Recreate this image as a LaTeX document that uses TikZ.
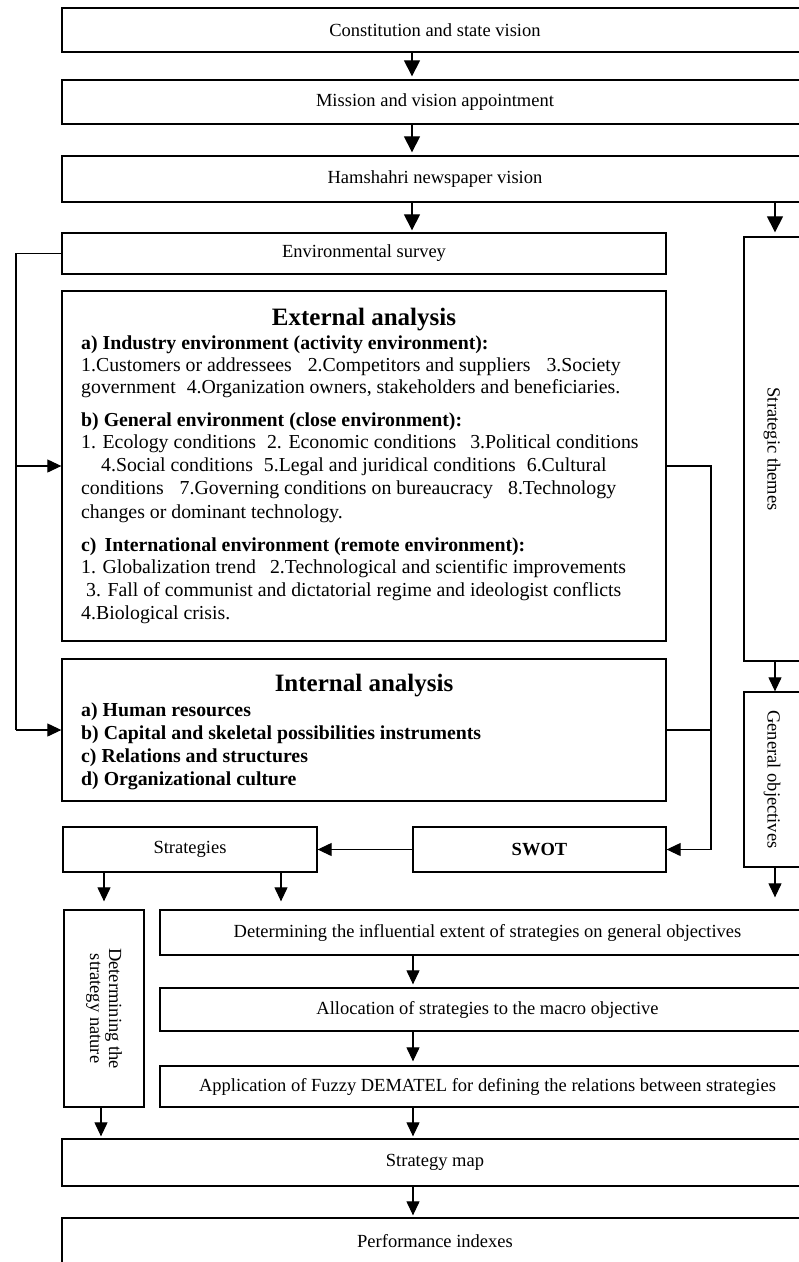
\documentclass[tikz,border=0pt]{standalone}
\usepackage{fontspec}
\setmainfont{Liberation Serif}
\usetikzlibrary{arrows.meta}
\newcommand\fsnorm{\fontsize{18.5}{22.7}\selectfont}
\newcommand\fsbody{\fontsize{19.8}{22.7}\selectfont}
\newcommand\fsbig{\fontsize{25}{30}\selectfont\bfseries}
\begin{document}
\begin{tikzpicture}[x=1pt,y=-1pt,
  box/.style={draw, line width=1.3pt, inner sep=0pt, font=\fsnorm, align=center},
  txt/.style={inner sep=0pt, anchor=base west, font=\fsbody},
  rottxt/.style={inner sep=0pt, rotate=-90, font=\fsnorm, align=center},
  conn/.style={line width=1.1pt},
  arr/.style={conn, -{Triangle[width=13pt,length=14pt]}},
  arrbig/.style={conn, -{Triangle[width=16pt,length=16pt]}}]
\useasboundingbox (0,0) rectangle (799,1262);
\clip (0,0) rectangle (799,1262);
% top chain
\node[box, minimum width=746pt, minimum height=44pt] (top1) at (435,30) {Constitution and state vision};
\node[box, minimum width=746pt, minimum height=44pt] (top2) at (435,102) {Mission and vision appointment};
\node[box, minimum width=746pt, minimum height=46pt] (top3) at (435,179) {Hamshahri newspaper vision};
\node[box, minimum width=604pt, minimum height=41pt] (survey) at (364,253.5) {Environmental survey};
% external analysis
\node[box, minimum width=604pt, minimum height=350pt] (ext) at (364,466) {};
\node[inner sep=0pt, anchor=base, font=\fsbig] (extT) at (364,325) {External analysis};
\node[txt] (e1) at (81,349) {\bfseries a) Industry environment (activity environment):};
\node[txt] (e2) at (81,371) {1.Customers or addressees\hspace{16pt}2.Competitors and suppliers\hspace{16pt}3.Society};
\node[txt] (e3) at (81,393) {government\hspace{11pt}4.Organization owners, stakeholders and beneficiaries.};
\node[txt] (e4) at (81,426) {\bfseries b) General environment (close environment):};
\node[txt] (e5) at (81,448) {1. Ecology conditions\hspace{11pt}2. Economic conditions\hspace{14pt}3.Political conditions};
\node[txt] (e6) at (101,471) {4.Social conditions\hspace{11pt}5.Legal and juridical conditions\hspace{11pt}6.Cultural};
\node[txt] (e7) at (81,494) {conditions\hspace{16pt}7.Governing conditions on bureaucracy\hspace{15pt}8.Technology};
\node[txt] (e8) at (81,518) {changes or dominant technology.};
\node[txt] (e9) at (81,551) {\bfseries c)\hspace{8pt}International environment (remote environment):};
\node[txt] (e10) at (81,573) {1. Globalization trend\hspace{14pt}2.Technological and scientific improvements};
\node[txt] (e11) at (86,596) {3. Fall of communist and dictatorial regime and ideologist conflicts};
\node[txt] (e12) at (81,619) {4.Biological crisis.};
% internal analysis
\node[box, minimum width=604pt, minimum height=142pt] (int) at (364,730) {};
\node[inner sep=0pt, anchor=base, font=\fsbig] (intT) at (364,691) {Internal analysis};
\node[txt] (i1) at (81,716) {\bfseries a) Human resources};
\node[txt] (i2) at (81,739) {\bfseries b) Capital and skeletal possibilities instruments};
\node[txt] (i3) at (81,762) {\bfseries c) Relations and structures};
\node[txt] (i4) at (81,785) {\bfseries d) Organizational culture};
% right column
\node[box, minimum width=56pt, minimum height=424pt] (themes) at (772,449) {};
\node[rottxt] (themesT) at (themes.center) {Strategic themes};
\node[box, minimum width=56pt, minimum height=175pt] (genobj) at (772,779.5) {};
\node[rottxt] (genobjT) at (genobj.center) {General objectives};
% strategies and swot
\node[box, minimum width=254pt, minimum height=45pt] (strat) at (190,849.5) {Strategies};
\node[box, minimum width=253pt, minimum height=45pt] (swot) at (539.5,849.5) {\bfseries SWOT};
\node[box, minimum width=80pt, minimum height=197pt] (nature) at (104,1008.5) {};
\node[rottxt, font=\fontsize{18.5}{19}\selectfont] (natureT) at (nature.center) {Determining the\\strategy nature};
\node[box, minimum width=655pt, minimum height=45pt] (det) at (487.5,932.5) {Determining the influential extent of strategies on general objectives};
\node[box, minimum width=655pt, minimum height=43pt] (alloc) at (487.5,1009.5) {Allocation of strategies to the macro objective};
\node[box, minimum width=655pt, minimum height=41pt] (fuzzy) at (487.5,1086.5) {Application of Fuzzy DEMATEL for defining the relations between strategies};
\node[box, minimum width=746pt, minimum height=47pt] (map) at (435,1162.5) {Strategy map};
\node[box, minimum width=746pt, minimum height=46pt] (perf) at (435,1241) {Performance indexes};
% helper coordinates
\coordinate (x412) at (412,0);
\coordinate (x413) at (413,0);
\coordinate (x775) at (775,0);
\coordinate (x16) at (16,0);
\coordinate (x711) at (711,0);
\coordinate (x104) at (104,0);
\coordinate (x101) at (101,0);
\coordinate (x281) at (281,0);
% connectors
\draw[arrbig, shorten >=3pt] (x412 |- top1.south) -- (x412 |- top2.north);
\draw[arrbig, shorten >=3pt] (x412 |- top2.south) -- (x412 |- top3.north);
\draw[arrbig, shorten >=2pt] (x412 |- top3.south) -- (x412 |- survey.north);
\draw[arrbig, shorten >=4pt] (x775 |- top3.south) -- (x775 |- themes.north);
\draw[conn] (survey.west) -- (x16 |- survey.west) -- (x16 |- int.west);
\draw[arr] (x16 |- ext.west) -- (ext.west);
\draw[arr] (x16 |- int.west) -- (int.west);
\draw[conn] (ext.east) -| (x711 |- int.east);
\draw[arr] (int.east) -| (x711 |- swot.east) -- (swot.east);
\draw[arr] (swot.west) -- (strat.east);
\draw[arr] (x775 |- themes.south) -- (x775 |- genobj.north);
\draw[arr, shorten >=12pt] (x775 |- genobj.south) -- (x775 |- det.north);
\draw[arr, shorten >=8pt] (x104 |- strat.south) -- (x104 |- nature.north);
\draw[arr, shorten >=8pt] (x281 |- strat.south) -- (x281 |- det.north);
\draw[arr, shorten >=3pt] (x413 |- det.south) -- (x413 |- alloc.north);
\draw[arr, shorten >=4pt] (x413 |- alloc.south) -- (x413 |- fuzzy.north);
\draw[arr, shorten >=2pt] (x101 |- nature.south) -- (x101 |- map.north);
\draw[arr, shorten >=2pt] (x413 |- fuzzy.south) -- (x413 |- map.north);
\draw[arr, shorten >=2pt] (x413 |- map.south) -- (x413 |- perf.north);
\end{tikzpicture}
\end{document}
